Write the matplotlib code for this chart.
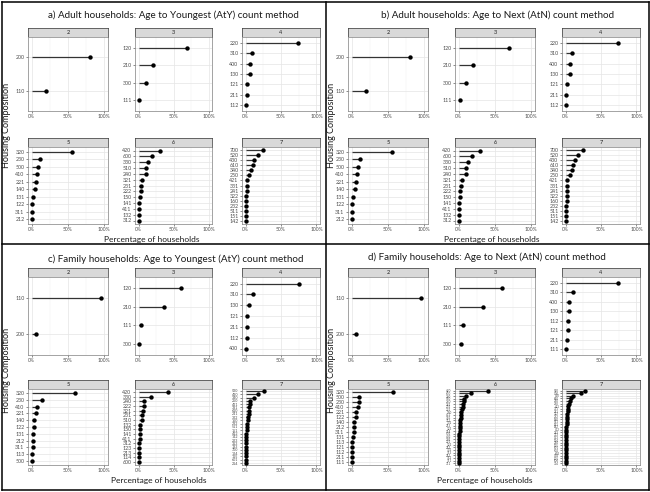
import matplotlib
matplotlib.use("Agg")
import matplotlib.pyplot as plt
from matplotlib.lines import Line2D

plt.rcParams["font.family"] = ["Lato", "DejaVu Sans"]

W, H = 650, 492

sizes = ["2", "3", "4", "5", "6", "7"]

# a) Adult households, AtY
a2_cat = ["200", "110"]
a2_pct = [80, 19.5]
a3_cat = ["120", "210", "300", "111"]
a3_pct = [69, 20, 10, 1.4]
a4_cat = ["220", "310", "400", "130", "121", "211", "112"]
a4_pct = [74, 9, 6.4, 6, 2.7, 1.4, 1]
a5_cat = ["320", "230", "500", "410", "221", "140", "131", "122", "311", "212"]
a5_pct = [56, 12, 9, 8, 6, 4, 2, 1, 1, 0.5]
a6_cat = ["420", "600", "330", "510", "240", "321", "231", "222", "150", "141", "411", "132", "312"]
a6_pct = [31, 19.5, 14, 11, 10, 5.5, 4, 3, 2.7, 1.4, 1.4, 1, 1]
a7_cat = ["700", "520", "430", "610", "340", "250", "421", "331", "241", "322", "160", "232", "511", "151", "142"]
a7_pct = [25, 17, 12, 10.5, 8, 4.5, 2, 1.5, 1.5, 1, 1, 0.7, 0.5, 0.5, 0.3]

# b) Adult households, AtN
b2_cat = ["200", "110"]
b2_pct = [80, 20]
b3_cat = ["120", "210", "300", "111"]
b3_pct = [69, 20, 9.5, 1.5]
b4_cat = ["220", "310", "400", "130", "121", "211", "112"]
b4_pct = [74, 9, 6.5, 6, 2.5, 1, 1]
b5_cat = ["320", "230", "500", "410", "221", "140", "131", "122", "311", "212"]
b5_pct = [56, 12, 9, 8, 6, 4.5, 2, 1, 1, 0.5]
b6_cat = ["420", "600", "330", "510", "240", "321", "231", "222", "150", "141", "411", "132", "312"]
b6_pct = [30, 18, 13, 10, 9.5, 4, 3, 2, 1.5, 0.7, 0.7, 0.3, 0.3]
b7_cat = ["700", "520", "430", "610", "340", "250", "421", "331", "241", "322", "160", "232", "511", "151", "142"]
b7_pct = [25, 18, 13, 11, 9, 6, 2.5, 2, 2, 1.5, 1.5, 1, 0.8, 0.6, 0.4]

# c) Family households, AtY
c2_cat = ["110", "200"]
c2_pct = [95, 5.5]
c3_cat = ["120", "210", "111", "300"]
c3_pct = [60, 36, 4, 1]
c4_cat = ["220", "310", "130", "121", "211", "112", "400"]
c4_pct = [76, 11, 5, 2.5, 2, 1.5, 0.3]
c5_cat = ["320", "230", "410", "221", "140", "122", "131", "212", "311", "113", "500"]
c5_pct = [60, 14, 7, 6.5, 3, 3, 2, 2, 2, 0.5, 0.3]
c6_cat = ["420", "330", "240", "222", "321", "231", "510", "132", "150", "141", "411", "312",
          "123", "213", "114", "600"]
c6_pct = [42, 18, 8.5, 7.5, 7, 5.5, 4.5, 2.7, 2.2, 1.8, 1.5, 1.3, 0.9, 0.7, 0.5, 0.3]
c7_cat = ["520", "430", "340", "250", "421", "331", "610", "241", "322", "160", "232", "511",
          "151", "412", "142", "223", "313", "133", "700", "124", "115", "601", "214"]
c7_pct = [26, 18, 12, 6, 6, 5.5, 5, 4.5, 3.6, 3, 2.3, 1.8, 1.4, 1.2, 1, 0.9, 0.8, 0.6, 0.5,
          0.4, 0.3, 0.2, 0.2]

# d) Family households, AtN
d2_cat = ["110", "200"]
d2_pct = [96, 6]
d3_cat = ["120", "210", "111", "300"]
d3_pct = [59, 34, 5.5, 3.6]
d4_cat = ["220", "310", "400", "130", "112", "121", "211", "111"]
d4_pct = [74, 10.5, 5, 5, 3.6, 3.2, 2.7, 0.5]
d5_cat = ["320", "500", "230", "410", "221", "122", "140", "212", "311", "131", "113", "121",
          "112", "211", "111"]
d5_pct = [57, 10.5, 10, 8.6, 6, 5.5, 3, 2.7, 2.7, 2.3, 1, 0.5, 0.5, 0.5, 0.5]
d6_cat = ["420", "600", "330", "510", "240", "321", "231", "222", "150", "411", "141", "312",
          "132", "213", "123", "114", "501", "402", "303", "221", "122", "212", "131", "113",
          "211", "112", "111", "311"]
d6_pct = [40, 17, 10, 8, 7, 6, 5.5, 4.5, 3.6, 3.2, 2.8, 2.4, 2, 1.8, 1.5, 1.3, 1.1, 0.9, 0.8,
          0.7, 0.6, 0.5, 0.4, 0.3, 0.3, 0.2, 0.2, 0.1]
d7_cat = ["520", "700", "430", "610", "340", "250", "421", "331", "241", "322", "232", "160",
          "511", "151", "142", "412", "223", "313", "133", "124", "214", "115", "601", "502",
          "403", "304", "205", "106", "314"]
d7_pct = [28, 22, 11, 8, 6, 5, 4, 3.6, 3.2, 2.7, 2.3, 2, 1.6, 1.4, 1.2, 1, 0.9, 0.8, 0.7, 0.6,
          0.5, 0.5, 0.4, 0.3, 0.3, 0.2, 0.2, 0.1, 0.1]

titles = [
    "a) Adult households: Age to Youngest (AtY) count method",
    "b) Adult households: Age to Next (AtN) count method",
    "c) Family households: Age to Youngest (AtY) count method",
    "d) Family households: Age to Next (AtN) count method",
]

STRIP_H = 9


def px_rect(l, t, r, b):
    return [l / W, 1 - b / H, (r - l) / W, (b - t) / H]


def facet(fig, l, t, r, b, size, cats, pcts):
    sax = fig.add_axes(px_rect(l, t, r, t + STRIP_H))
    sax.set_facecolor("#d9d9d9")
    sax.set_xticks([])
    sax.set_yticks([])
    for s in sax.spines.values():
        s.set_color("#333333")
        s.set_linewidth(0.5)
    sax.text(0.5, 0.45, size, ha="center", va="center", fontsize=4, color="#1a1a1a",
             transform=sax.transAxes)

    ax = fig.add_axes(px_rect(l, t + STRIP_H, r, b))
    n = len(cats)
    ys = list(range(n - 1, -1, -1))
    xs = [p / 100 for p in pcts]
    ax.hlines(ys, 0, xs, color="#333333", lw=0.9, zorder=2)
    ax.scatter(xs, ys, s=10, color="black", zorder=3, linewidths=0)
    ax.set_xlim(-0.05, 1.05)
    ax.set_ylim(-0.6, n - 0.4)
    ax.set_xticks([0, 0.5, 1])
    ax.set_xticklabels(["0%", "50%", "100%"])
    ax.set_xticks([0.25, 0.75], minor=True)
    ax.set_yticks(ys)
    ax.set_yticklabels(cats)
    ax.grid(True, which="major", color="#e5e5e5", lw=0.5)
    ax.grid(True, which="minor", axis="x", color="#f0f0f0", lw=0.3)
    ax.set_axisbelow(True)
    row_px = (b - t - STRIP_H) / (n + 0.2)
    fs = min(3.8, row_px * 0.8)
    ax.tick_params(axis="y", labelsize=fs, length=1.5, width=0.4, pad=1,
                   colors="#333333", labelcolor="#4d4d4d")
    ax.tick_params(axis="x", labelsize=3.6, length=1.5, width=0.4, pad=1,
                   colors="#333333", labelcolor="#4d4d4d")
    ax.tick_params(which="minor", length=0)
    for s in ax.spines.values():
        s.set_color("#7f7f7f")
        s.set_linewidth(0.5)


def quadrant(fig, x0, y0, lay, title, cats, pcts):
    rows = [(lay["s1"], lay["p1"]), (lay["s2"], lay["p2"])]
    for i in range(6):
        t, b = rows[i // 3]
        l, r = lay["cols"][i % 3]
        facet(fig, x0 + l, y0 + t, x0 + r, y0 + b, sizes[i], cats[i], pcts[i])
    fig.text((x0 + lay["tx"]) / W, 1 - (y0 + lay["ty"]) / H, title, ha="center",
             va="center", fontsize=7.1, color="#1a1a1a")
    fig.text((x0 + lay["xx"]) / W, 1 - (y0 + lay["xy"]) / H, "Percentage of households",
             ha="center", va="center", fontsize=6, color="#1a1a1a")
    fig.text((x0 + 7) / W, 1 - (y0 + 125) / H, "Housing Composition", ha="center",
             va="center", rotation=90, fontsize=6.5, color="#1a1a1a")


lay_a = dict(ty=15, tx=173, s1=28, p1=111, s2=138, p2=224, xx=152, xy=239,
             cols=[(28, 108), (135, 212), (242, 320)])
lay_b = dict(ty=15, tx=173, s1=28, p1=111, s2=138, p2=224, xx=167, xy=239,
             cols=[(23, 103), (130, 210), (237, 315)])
lay_c = dict(ty=14, tx=176, s1=23, p1=110, s2=135, p2=220, xx=159, xy=236,
             cols=[(28, 108), (135, 212), (242, 320)])
lay_d = dict(ty=12, tx=162, s1=23, p1=110, s2=135, p2=220, xx=160, xy=236,
             cols=[(23, 103), (130, 210), (237, 315)])

fig = plt.figure(figsize=(6.5, 4.92), dpi=100)

quadrant(fig, 0, 0, lay_a, titles[0],
         [a2_cat, a3_cat, a4_cat, a5_cat, a6_cat, a7_cat],
         [a2_pct, a3_pct, a4_pct, a5_pct, a6_pct, a7_pct])
quadrant(fig, 325, 0, lay_b, titles[1],
         [b2_cat, b3_cat, b4_cat, b5_cat, b6_cat, b7_cat],
         [b2_pct, b3_pct, b4_pct, b5_pct, b6_pct, b7_pct])
quadrant(fig, 0, 245, lay_c, titles[2],
         [c2_cat, c3_cat, c4_cat, c5_cat, c6_cat, c7_cat],
         [c2_pct, c3_pct, c4_pct, c5_pct, c6_pct, c7_pct])
quadrant(fig, 325, 245, lay_d, titles[3],
         [d2_cat, d3_cat, d4_cat, d5_cat, d6_cat, d7_cat],
         [d2_pct, d3_pct, d4_pct, d5_pct, d6_pct, d7_pct])

# frame and dividers between the four parts
for xs_, ys_ in [([1.5, 648.5], [1.5, 1.5]), ([1.5, 648.5], [489.5, 489.5]),
                 ([1.5, 1.5], [1.5, 489.5]), ([648.5, 648.5], [1.5, 489.5]),
                 ([326, 326], [1.5, 489.5]), ([1.5, 648.5], [244, 244])]:
    fig.add_artist(Line2D([x / W for x in xs_], [1 - y / H for y in ys_],
                          color="black", lw=1.1))

fig.savefig("out.png", dpi=100)
